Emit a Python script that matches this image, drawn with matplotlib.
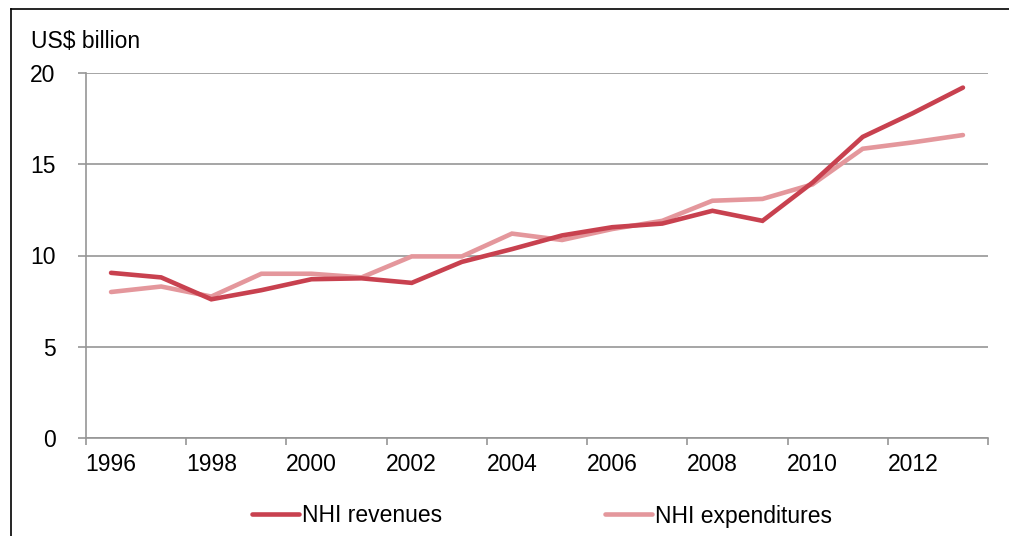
import matplotlib
matplotlib.use("Agg")
import matplotlib.pyplot as plt
from matplotlib.lines import Line2D

plt.rcParams['font.family'] = ['Liberation Sans', 'DejaVu Sans']

# === Data ===
years = list(range(1996, 2014))
revenues = [9.05, 8.8, 7.6, 8.1, 8.7, 8.75, 8.5, 9.65, 10.35, 11.1, 11.55, 11.75,
            12.45, 11.9, 14.0, 16.5, 17.8, 19.2]
expenditures = [8.0, 8.3, 7.75, 9.0, 9.0, 8.8, 9.95, 9.95, 11.2, 10.85, 11.45, 11.9,
                13.0, 13.1, 13.9, 15.85, 16.2, 16.6]
y_ticks = [0, 5, 10, 15, 20]

dark_red = '#C8414F'
light_pink = '#E4979C'
grid_grey = '#969696'
fs = 16.5
lw = 3.3

W, H = 1009, 536
fig = plt.figure(figsize=(W / 100, H / 100), dpi=100)
ax = fig.add_axes([86 / W, (H - 438) / H, 902 / W, 365 / H])

x = list(range(len(years)))
ax.plot(x, revenues, color=dark_red, lw=lw, solid_capstyle='round',
        solid_joinstyle='miter', zorder=3)
ax.plot(x, expenditures, color=light_pink, lw=lw, solid_capstyle='round',
        solid_joinstyle='miter', zorder=2)

ax.set_xlim(-0.5, len(years) - 0.5)
ax.set_ylim(0, 20)

# Tick marks sit on category boundaries, labels on every second category
ax.set_xticks([i - 0.5 for i in range(0, len(years) + 1, 2)])
ax.set_xticklabels([])
ax.set_xticks(x[::2], minor=True)
ax.set_xticklabels([str(y) for y in years[::2]], minor=True)
ax.tick_params(axis='x', which='major', length=5, color=grid_grey, width=1.2)
ax.tick_params(axis='x', which='minor', length=0, pad=11, labelsize=fs)

ax.set_yticks(y_ticks)
ax.tick_params(axis='y', length=6, color=grid_grey, width=1.2, pad=16, labelsize=fs)

ax.grid(axis='y', color=grid_grey, lw=1.2)
ax.set_axisbelow(True)
for side in ['top', 'right']:
    ax.spines[side].set_visible(False)
for side in ['left', 'bottom']:
    ax.spines[side].set_color(grid_grey)
    ax.spines[side].set_linewidth(1.2)

fig.text(31 / W, 1 - 41 / H, 'US$ billion', fontsize=fs, va='center', ha='left')

handles = [Line2D([], [], color=dark_red, lw=lw, solid_capstyle='round'),
           Line2D([], [], color=light_pink, lw=lw, solid_capstyle='round')]
fig.legend(handles, ['NHI revenues', 'NHI expenditures'], ncol=2, frameon=False,
           loc='center', bbox_to_anchor=(542 / W, 1 - 516 / H), fontsize=fs,
           handlelength=2.05, handletextpad=0.12, columnspacing=7.1)

# Frame edges around the chart
fig.add_artist(Line2D([11 / W, 1], [1 - 9 / H, 1 - 9 / H], color='black', lw=1.2,
                      transform=fig.transFigure))
fig.add_artist(Line2D([11 / W, 11 / W], [0, 1 - 9 / H], color='black', lw=1.2,
                      transform=fig.transFigure))

fig.savefig('out.png', dpi=100)
